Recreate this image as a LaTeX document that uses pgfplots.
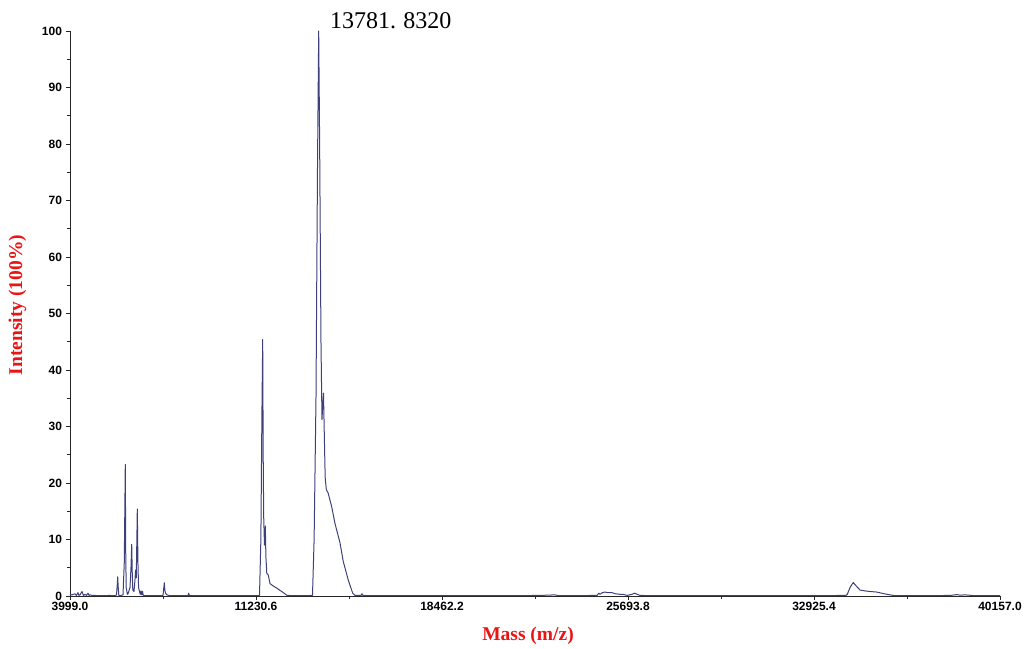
\documentclass[border=0pt]{standalone}
\usepackage{fontspec}
\setmainfont{Liberation Serif}
\newfontfamily\arialf{Liberation Sans}
\usepackage{pgfplots}
\pgfplotsset{compat=1.18}
\definecolor{spec}{RGB}{62,64,124}
\definecolor{axred}{RGB}{235,20,20}
\begin{document}
\begin{tikzpicture}[x=1pt,y=1pt]
\path[use as bounding box] (0,0) rectangle (1024,648);
\begin{axis}[
  at={(70pt,52pt)}, anchor=south west,
  scale only axis, width=930pt, height=565pt,
  xmin=3999, xmax=40157, ymin=0, ymax=100,
  axis x line=bottom, axis y line=left,
  axis line style={-, line width=0.9pt, black!85},
  scaled x ticks=false,
  xtick={3999,11230.6,18462.2,25693.8,32925.4,40157},
  xticklabels={3999.0,11230.6,18462.2,25693.8,32925.4,40157.0},
  minor xtick={7614.8,14846.4,22078,29309.6,36541.2},
  ytick={0,10,...,100},
  minor ytick={5,15,...,95},
  tick align=outside,
  major tick length=4pt, minor tick length=3pt,
  tick style={black!85, line width=0.8pt},
  /pgf/number format/assume math mode=true,
  tick label style={font=\arialf\bfseries\fontsize{12}{13}\selectfont},
  yticklabel style={xshift=-0.5pt},
  xticklabel style={yshift=1.5pt},
  xlabel={Mass (m/z)}, ylabel={Intensity (100\%)},
  label style={font=\bfseries\fontsize{19.5}{22}\selectfont, text=axred},
  xlabel style={at={(axis description cs:0.4925,-0.078)}, anchor=base},
  ylabel style={at={(axis description cs:-0.0516,0.515)}, anchor=base, rotate=0},
  clip=false,
]
\addplot[spec, line width=1pt, line join=round] coordinates {
(3999,0.3)(4077,0.2)(4193,0.4)(4250,0.1)(4310,0.6)(4350,0.1)(4388,0.2)(4466,0.8)(4520,0.1)(4582,0.3)(4640,0.1)(4699,0.5)(4740,0.1)(4777,0.2)(4854,0.1)(4971,0.1)(5165,0.05)(5554,0.1)(5749,0.05)
(5807,0.2)(5840,2.2)(5854,3.4)(5870,1.8)(5897,0.1)(5943,0.05)
(6060,0.2)(6110,6)(6130,15)(6149,23.3)(6165,8)(6184,1.5)(6230,0.3)(6254,0.4)
(6332,1.5)(6370,5)(6398,9.15)(6420,4)(6441,1.0)(6487,0.8)(6520,2.5)(6550,4.6)(6575,3.2)(6595,9)(6616,15.4)(6640,6)(6665,1.5)(6701,0.8)(6730,0.3)(6759,0.9)(6790,0.2)(6818,0.8)(6850,0.1)(6915,0.05)
(7109,0.05)(7498,0.05)(7615,0.1)(7640,1.2)(7666,2.35)(7690,0.9)(7712,0.6)(7740,0.3)(7771,0.2)(7887,0.05)
(8587,0.05)(8614,0.5)(8645,0.05)(9053,0.05)(10220,0.05)(11192,0.05)
(11367,0.1)(11420,10)(11460,32)(11491,45.4)(11510,25)(11530,14)(11560,9)(11593,12.4)(11615,7)(11650,4)(11709,3.7)(11775,2.2)(11892,1.8)(12036,1.4)(12164,1.0)(12292,0.6)(12436,0.1)(12941,0.05)
(13427,0.1)(13490,10)(13563,35)(13620,75)(13668,100)(13705,80)(13757,45)(13796,31.2)(13827,34)(13855,35.9)(13880,30)(13920,21)(13965,18.8)(14030,18.3)(14174,15.8)(14298,12.9)(14497,9.4)(14624,6.1)(14819,2.8)(14990,0.5)(15080,0.1)
(15313,0.1)(15352,0.4)(15391,0.1)(15663,0.05)(16829,0.05)(18773,0.05)(20717,0.05)(22272,0.1)(22855,0.2)(23000,0.05)
(24488,0.1)(24560,0.5)(24605,0.3)(24700,0.6)(24799,0.7)(24900,0.6)(25071,0.6)(25200,0.4)(25382,0.3)(25500,0.3)(25655,0.1)(25849,0.3)(25950,0.5)(26050,0.3)(26160,0.1)(26938,0.05)
(28493,0.05)(30437,0.05)(32381,0.05)(34170,0.1)(34220,0.3)(34325,1.5)(34454,2.4)(34520,2.0)(34714,1.06)(34909,0.9)(35100,0.8)(35364,0.7)(35648,0.4)(35881,0.2)(36075,0.05)
(37047,0.05)(38213,0.1)(38486,0.25)(38600,0.15)(38797,0.2)(39200,0.05)(40157,0.05)
};
\node[anchor=base west, inner sep=0pt, font=\fontsize{24}{26}\selectfont] at (axis cs:14108,100.5) {13781.\hspace{0.3em}8320};
\end{axis}
\end{tikzpicture}
\end{document}
